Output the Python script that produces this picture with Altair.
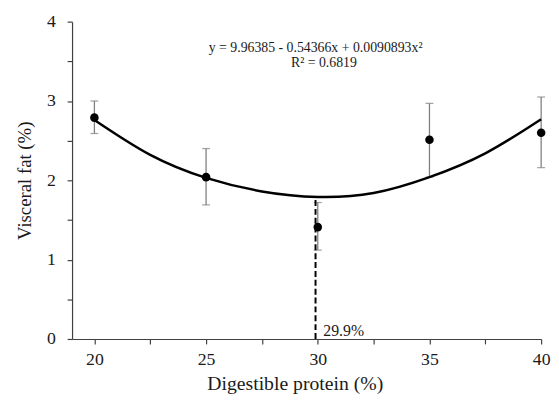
import altair as alt
import pandas as pd

# Data
protein = [20, 25, 30, 35, 40]
fat_mean = [2.79, 2.04, 1.41, 2.51, 2.60]
fat_hi = [3.00, 2.40, 1.72, 2.97, 3.05]
fat_lo = [2.59, 1.69, 1.12, 2.04, 2.16]

curve_x = [20, 22.5, 25, 27.5, 30, 32.5, 35, 37.5, 40]
curve_y = [2.76, 2.32, 2.03, 1.86, 1.79, 1.84, 2.04, 2.34, 2.77]

opt_x = 29.9
opt_y = 1.79

eq_text = "y = 9.96385 - 0.54366x + 0.0090893x²"
r2_text = "R² = 0.6819"
opt_label = "29.9%"

FONT = "Liberation Serif"
TXT = "#1a1a1a"
AX = "#404040"

pts = pd.DataFrame({"x": protein, "y": fat_mean, "lo": fat_lo, "hi": fat_hi})
curve = pd.DataFrame({"x": curve_x, "y": curve_y})
opt = pd.DataFrame({"x": [opt_x], "y0": [0.0], "y1": [opt_y]})
ann = pd.DataFrame({
    "x": [25.12, 28.8, 30.25],
    "y": [3.615, 3.43, 0.035],
    "t": [eq_text, r2_text, opt_label],
    "s": [14, 14, 16],
})

xs = alt.Scale(domain=[19, 40], nice=False, zero=False)
ys = alt.Scale(domain=[0, 4], nice=False, zero=True)

xaxis = alt.Axis(
    title="Digestible protein (%)",
    values=[20, 22.5, 25, 27.5, 30, 32.5, 35, 37.5, 40],
    labelExpr="datum.value % 5 == 0 ? format(datum.value, 'd') : ''",
    grid=False, labelFlush=False, tickSize=5, labelPadding=7, titlePadding=5,
    titleFontSize=20, titleX=226,
)
yaxis = alt.Axis(
    title="Visceral fat (%)",
    values=[0, 0.5, 1, 1.5, 2, 2.5, 3, 3.5, 4],
    labelExpr="datum.value % 1 == 0 ? format(datum.value, 'd') : ''",
    grid=False, tickSize=5, labelPadding=12, titlePadding=12,
)

base = alt.Chart(pts)

err = base.mark_rule(color="#808080", strokeWidth=1.3).encode(
    x=alt.X("x:Q", scale=xs, axis=xaxis),
    y=alt.Y("lo:Q", scale=ys, axis=yaxis),
    y2="hi:Q",
)
cap_hi = base.mark_tick(color="#808080", orient="horizontal", size=8, thickness=1.3).encode(
    x=alt.X("x:Q", scale=xs), y=alt.Y("hi:Q", scale=ys)
)
cap_lo = base.mark_tick(color="#808080", orient="horizontal", size=8, thickness=1.3).encode(
    x=alt.X("x:Q", scale=xs), y=alt.Y("lo:Q", scale=ys)
)
line = alt.Chart(curve).mark_line(color="black", strokeWidth=2.5, interpolate="natural").encode(
    x=alt.X("x:Q", scale=xs), y=alt.Y("y:Q", scale=ys)
)
dots = base.mark_circle(color="black", opacity=1, size=75).encode(
    x=alt.X("x:Q", scale=xs), y=alt.Y("y:Q", scale=ys)
)
dash = alt.Chart(opt).mark_rule(color="black", strokeWidth=2, strokeDash=[6, 3]).encode(
    x=alt.X("x:Q", scale=xs), y=alt.Y("y0:Q", scale=ys), y2="y1:Q"
)
texts = alt.Chart(ann).mark_text(font=FONT, color=TXT, align="left", baseline="alphabetic").encode(
    x=alt.X("x:Q", scale=xs), y=alt.Y("y:Q", scale=ys), text="t:N",
    size=alt.Size("s:Q", scale=None, legend=None),
)

chart = alt.layer(err, cap_hi, cap_lo, line, dash, dots, texts).properties(
    width=476, height=322,
    autosize=alt.AutoSizeParams(type="none"),
    padding={"left": 65, "top": 11, "right": 10, "bottom": 54},
).configure_view(stroke=None).configure_axis(
    labelFont=FONT, titleFont=FONT, labelFontSize=18, titleFontSize=19,
    labelColor=TXT, titleColor=TXT, titleFontWeight="normal",
    domainColor=AX, tickColor=AX, domainWidth=1.2, tickWidth=1.2,
)

chart.save("out.html", embed_options={"renderer": "svg", "actions": False})
